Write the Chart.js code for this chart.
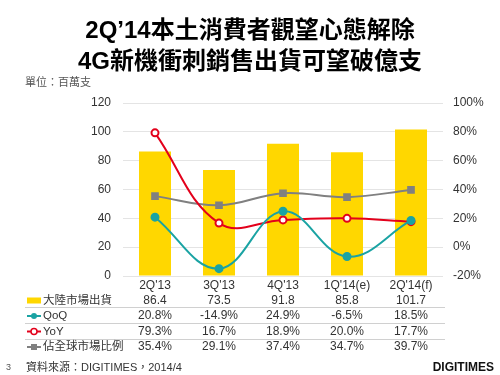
<!DOCTYPE html>
<html>
<head>
<meta charset="utf-8">
<script src="https://cdn.jsdelivr.net/npm/chart.js@4"></script>
<style>
  body { margin: 0; background: #fff; }
  #wrap { width: 500px; height: 375px; }
</style>
</head>
<body>
<div id="wrap"><canvas id="myChart" width="500" height="375"></canvas></div>
<script>
// data
const quarters = ["2Q'13", "3Q'13", "4Q'13", "1Q'14(e)", "2Q'14(f)"];
const shipments = [86.4, 73.5, 91.8, 85.8, 101.7];   // 百萬支
const qoq = [20.8, -14.9, 24.9, -6.5, 18.5];          // %
const yoy = [79.3, 16.7, 18.9, 20.0, 17.7];           // %
const globalShare = [35.4, 29.1, 37.4, 34.7, 39.7];   // %
const seriesNames = ['大陸市場出貨', 'QoQ', 'YoY', '佔全球市場比例'];

const YELLOW = '#FFD700';
const TEAL = '#1AA3A3';
const RED = '#E3001B';
const GREY = '#808080';
const FONT = '"Liberation Sans", Arial, "Noto Sans CJK TC", sans-serif';

// draws unit label, data table under the axis, and the footer
const tablePlugin = {
  id: 'dataTable',
  afterDraw(chart) {
    const c = chart.ctx;
    const x = chart.scales.x;
    c.save();

    c.fillStyle = '#555';
    c.font = '11px ' + FONT;
    c.textBaseline = 'middle';
    c.textAlign = 'left';
    c.fillText('單位：百萬支', 25, 83);

    const rowsY = [300.5, 316, 331.5, 347];
    const rows = [
      shipments.map(v => v.toFixed(1)),
      qoq.map(v => v.toFixed(1) + '%'),
      yoy.map(v => v.toFixed(1) + '%'),
      globalShare.map(v => v.toFixed(1) + '%')
    ];

    // separators
    c.strokeStyle = '#d0d0d0';
    c.lineWidth = 1;
    [307.5, 323.5, 339.5].forEach(y => {
      c.beginPath();
      c.moveTo(25, y);
      c.lineTo(445, y);
      c.stroke();
    });

    rows.forEach((vals, r) => {
      const y = rowsY[r];
      // swatch
      if (r === 0) {
        c.fillStyle = YELLOW;
        c.fillRect(27, y - 3, 14, 6);
      } else {
        const col = [TEAL, RED, GREY][r - 1];
        c.strokeStyle = col;
        c.lineWidth = 2;
        c.beginPath();
        c.moveTo(27, y);
        c.lineTo(41, y);
        c.stroke();
        if (r === 1) {
          c.fillStyle = TEAL;
          c.beginPath(); c.arc(34, y, 3, 0, Math.PI * 2); c.fill();
        } else if (r === 2) {
          c.fillStyle = '#fff';
          c.lineWidth = 1.5;
          c.beginPath(); c.arc(34, y, 3, 0, Math.PI * 2); c.fill(); c.stroke();
        } else {
          c.fillStyle = GREY;
          c.fillRect(31, y - 3, 6, 6);
        }
      }
      c.fillStyle = '#333';
      c.font = '11.5px ' + FONT;
      c.textAlign = 'left';
      c.fillText(seriesNames[r], 43, y);
      c.font = '12px ' + FONT;
      c.textAlign = 'center';
      vals.forEach((v, i) => c.fillText(v, x.getPixelForValue(i), y));
    });

    // footer
    c.fillStyle = '#555';
    c.font = '9px ' + FONT;
    c.textAlign = 'left';
    c.fillText('3', 6, 368);
    c.fillStyle = '#333';
    c.font = '11px ' + FONT;
    c.fillText('資料來源：DIGITIMES，2014/4', 26, 368);
    c.fillStyle = '#111';
    c.font = 'bold 12px ' + FONT;
    c.textAlign = 'right';
    c.fillText('DIGITIMES', 494, 368);
    c.restore();
  }
};

const ctx = document.getElementById('myChart').getContext('2d');

const myChart = new Chart(ctx, {
  type: 'bar',
  data: {
    labels: quarters,
    datasets: [
      {
        type: 'line', label: seriesNames[1], data: qoq, yAxisID: 'y1', order: 0,
        borderColor: TEAL, backgroundColor: TEAL, borderWidth: 2, tension: 0.4,
        pointRadius: 3.5, pointBackgroundColor: TEAL, pointBorderColor: TEAL
      },
      {
        type: 'line', label: seriesNames[2], data: yoy, yAxisID: 'y1', order: 0,
        borderColor: RED, backgroundColor: '#fff', borderWidth: 2, tension: 0.4,
        pointRadius: 3.5, pointBackgroundColor: '#fff', pointBorderColor: RED, pointBorderWidth: 2
      },
      {
        type: 'line', label: seriesNames[3], data: globalShare, yAxisID: 'y1', order: 0,
        borderColor: GREY, backgroundColor: GREY, borderWidth: 2, tension: 0.4,
        pointStyle: 'rect', pointRadius: 4, pointBackgroundColor: GREY, pointBorderColor: GREY
      },
      {
        label: seriesNames[0], data: shipments, yAxisID: 'y', order: 1,
        backgroundColor: YELLOW, categoryPercentage: 1, barPercentage: 0.5
      }
    ]
  },
  options: {
    responsive: false,
    animation: false,
    layout: { padding: { left: 0, right: 0, top: 0, bottom: 83 } },
    plugins: {
      legend: { display: false },
      tooltip: { enabled: false },
      title: {
        display: true,
        text: ['2Q’14本土消費者觀望心態解除', '4G新機衝刺銷售出貨可望破億支'],
        color: '#000',
        font: { family: '"Liberation Sans", "Noto Sans CJK TC", sans-serif', size: 24, weight: 'bold', lineHeight: 1.3 },
        padding: { top: 16, bottom: 24.6 }
      }
    },
    scales: {
      x: {
        grid: { display: false, drawTicks: false },
        border: { display: false },
        ticks: { color: '#333', font: { family: FONT, size: 12 }, padding: 2 },
        afterFit(s) { s.height = 16; }
      },
      y: {
        position: 'left',
        min: 0, max: 120,
        ticks: { stepSize: 20, color: '#333', font: { family: FONT, size: 12 }, padding: 12 },
        grid: { color: '#e4e4e4', drawTicks: false },
        border: { display: false },
        afterFit(s) { s.width = 123; }
      },
      y1: {
        position: 'right',
        min: -20, max: 100,
        ticks: { stepSize: 20, color: '#333', font: { family: FONT, size: 12 }, padding: 10,
          callback: v => v + '%' },
        grid: { display: false, drawTicks: false },
        border: { display: false },
        afterFit(s) { s.width = 57; }
      }
    }
  },
  plugins: [tablePlugin]
});
</script>
</body>
</html>
